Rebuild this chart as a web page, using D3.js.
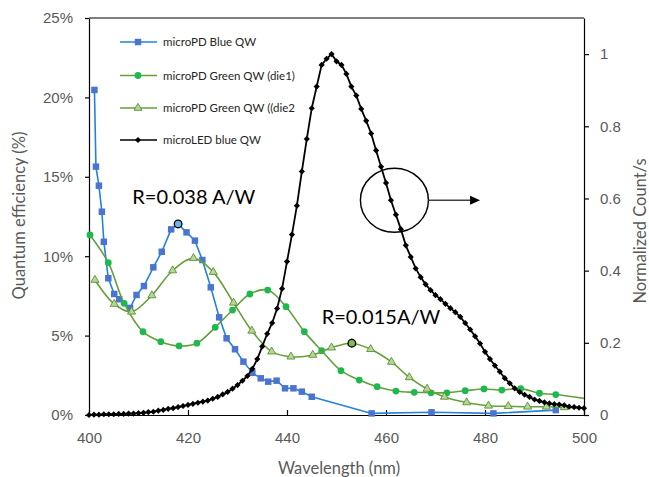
<!DOCTYPE html>
<html>
<head>
<meta charset="utf-8">
<script src="https://cdn.jsdelivr.net/npm/d3@7"></script>
<style>
  body { margin: 0; background: #fff; }
  svg { font-family: Lato, "Open Sans", sans-serif; }
  .axis text { fill: #595959; font-size: 15px; }
  .axis path, .axis line { stroke: #000; stroke-width: 1.2; }
  .title { fill: #595959; font-size: 16.5px; }
  .legend text { fill: #262626; font-size: 11.5px; }
</style>
</head>
<body>
<svg id="chart"></svg>
<script>
// microPD Blue QW : wavelength (nm), quantum efficiency (%)
const blueWl = [401.1, 401.4, 402.0, 402.6, 403.0, 403.9, 405.1, 406.1, 408.3, 409.6, 411.1, 413.0, 414.7, 416.6, 418.0,
  419.7, 421.4, 422.9, 424.6, 426.3, 427.8, 429.5, 431.2, 433.0, 434.7, 436.2, 437.9, 439.6, 441.3, 443.0, 445.0,
  457.1, 469.2, 481.7, 494.3];
const blueQe = [20.47, 15.64, 14.44, 12.80, 10.91, 8.61, 7.62, 7.29, 6.74, 7.56, 8.12, 9.30, 10.28, 11.69, 12.03,
  11.50, 10.98, 9.76, 8.04, 6.15, 4.83, 4.14, 3.36, 2.66, 2.31, 2.10, 2.16, 1.68, 1.68, 1.47, 1.15,
  0.10, 0.17, 0.10, 0.31];

// microPD Green QW (die1)
const green1Wl = [400.2, 403.9, 407.1, 410.9, 414.5, 418.2, 421.8, 425.5, 429.0, 432.5, 436.1, 439.8, 443.5, 447.0,
  450.9, 454.6, 458.2, 462.0, 465.7, 469.1, 472.3, 476.0, 479.8, 483.4, 487.2, 491.0, 494.3, 502];
const green1Qe = [11.34, 9.59, 7.03, 5.25, 4.62, 4.35, 4.52, 5.52, 6.61, 7.62, 7.87, 6.82, 5.25, 4.05,
  2.79, 2.20, 1.78, 1.51, 1.43, 1.40, 1.40, 1.53, 1.64, 1.57, 1.66, 1.37, 1.29, 0.95];

// microPD Green QW (die2)
const green2Wl = [401.2, 405.1, 408.6, 412.7, 416.9, 421.1, 425.1, 429.2, 432.9, 436.9, 440.8, 445.2, 449.0,
  453.1, 456.9, 461.1, 464.7, 468.3, 471.8, 476.3, 480.7, 484.7, 488.6, 492.4, 496.0, 502];
const green2Qe = [8.50, 6.99, 6.50, 7.53, 9.10, 9.87, 9.00, 7.07, 5.30, 3.99, 3.67, 3.78, 4.24,
  4.52, 4.14, 3.34, 2.37, 1.64, 1.14, 0.79, 0.58, 0.55, 0.52, 0.52, 0.48, 0.45];

// microLED blue QW : normalized count/s
const ledWl = [400, 401, 402, 403, 404, 405, 406, 407, 408, 409, 410, 411, 412, 413, 414, 415, 416, 417, 418, 419,
  420, 421, 422, 423, 424, 425, 426, 427, 428, 429, 430, 431, 432, 433, 434, 435, 436, 437, 438, 439,
  440, 441, 442, 443, 444, 445, 446, 447, 448, 449, 450, 451, 452, 453, 454, 455, 456, 457, 458, 459,
  460, 461, 462, 463, 464, 465, 466, 467, 468, 469, 470, 471, 472, 473, 474, 475, 476, 477, 478, 479,
  480, 481, 482, 483, 484, 485, 486, 487, 488, 489, 490, 491, 492, 493, 494, 495, 496, 497, 498, 499, 500];
const ledCounts = [0.000, 0.001, 0.001, 0.002, 0.002, 0.002, 0.003, 0.003, 0.004, 0.004,
  0.005, 0.006, 0.008, 0.009, 0.012, 0.014, 0.017, 0.019, 0.022, 0.025,
  0.028, 0.031, 0.034, 0.037, 0.040, 0.045, 0.050, 0.057, 0.064, 0.073,
  0.083, 0.095, 0.108, 0.128, 0.155, 0.190, 0.225, 0.255, 0.295, 0.350,
  0.425, 0.500, 0.580, 0.675, 0.765, 0.850, 0.910, 0.970, 0.987, 1.000,
  0.980, 0.970, 0.945, 0.910, 0.885, 0.848, 0.815, 0.780, 0.733, 0.688,
  0.643, 0.595, 0.555, 0.515, 0.470, 0.438, 0.406, 0.382, 0.362, 0.346,
  0.332, 0.321, 0.308, 0.296, 0.285, 0.272, 0.255, 0.237, 0.218, 0.198,
  0.175, 0.155, 0.137, 0.120, 0.102, 0.088, 0.074, 0.064, 0.056, 0.050,
  0.043, 0.039, 0.035, 0.032, 0.030, 0.029, 0.027, 0.023, 0.022, 0.020, 0.019];

const xTicks = [400, 420, 440, 460, 480, 500];
const leftTicks = [0, 5, 10, 15, 20, 25];
const rightTicks = [0, 0.2, 0.4, 0.6, 0.8, 1];
const seriesNames = ['microPD Blue QW', 'microPD Green QW (die1)', 'microPD Green QW ((die2', 'microLED blue QW'];

// responsivity call-outs: [wavelength, QE %, label]
const callouts = [[408.75, 13.29, 'R=0.038 A/W'], [447.0, 5.73, 'R=0.015A/W']];
const highlights = [[418.0, 12.03, '#6fb4ea'], [453.1, 4.52, '#86b85a']];
// circle around the LED curve, arrow points to right axis
const ledMark = {wl: 461.7, count: 0.595, arrowTo: 479.0};

class DualAxisChart {
  constructor(_config) {
    this.config = {
      parentElement: _config.parentElement,
      containerWidth: _config.containerWidth || 649,
      containerHeight: _config.containerHeight || 477,
      margin: {top: 18, right: 65, bottom: 62, left: 89}
    };
    this.initVis();
  }

  initVis() {
    let vis = this;
    vis.width = vis.config.containerWidth - vis.config.margin.left - vis.config.margin.right;
    vis.height = vis.config.containerHeight - vis.config.margin.top - vis.config.margin.bottom;

    vis.svg = d3.select(vis.config.parentElement)
      .attr('width', vis.config.containerWidth)
      .attr('height', vis.config.containerHeight);

    vis.chart = vis.svg.append('g')
      .attr('transform', `translate(${vis.config.margin.left}, ${vis.config.margin.top})`);

    vis.svg.append('defs').append('clipPath').attr('id', 'plot-clip')
      .append('rect').attr('x', -10).attr('y', -10).attr('width', vis.width + 10).attr('height', vis.height + 20);

    vis.xScale = d3.scaleLinear().domain([400, 500]).range([0, vis.width]);
    vis.yLeft = d3.scaleLinear().domain([0, 25]).range([vis.height, 0]);
    vis.yRight = d3.scaleLinear().domain([0, 1.1]).range([vis.height, 0]);

    vis.renderAxes();
    vis.renderVis();
  }

  renderAxes() {
    let vis = this;

    vis.chart.append('line').attr('x1', 0).attr('x2', vis.width)
      .attr('stroke', '#000').attr('stroke-width', 1.2);

    vis.chart.append('g').attr('class', 'axis x-axis')
      .attr('transform', `translate(0, ${vis.height})`)
      .call(d3.axisBottom(vis.xScale).tickValues(xTicks).tickSizeInner(-5).tickSizeOuter(0).tickPadding(17));

    vis.chart.append('g').attr('class', 'axis y-axis')
      .call(d3.axisLeft(vis.yLeft).tickValues(leftTicks).tickFormat(d => d + '%')
        .tickSize(4).tickSizeOuter(0).tickPadding(12));

    vis.chart.append('g').attr('class', 'axis y-axis-right')
      .attr('transform', `translate(${vis.width}, 0)`)
      .call(d3.axisRight(vis.yRight).tickValues(rightTicks).tickFormat(d3.format('~g'))
        .tickSize(5).tickSizeOuter(0).tickPadding(11));

    vis.svg.append('text').attr('class', 'title')
      .attr('transform', `translate(19, 215.5) rotate(-90)`)
      .attr('text-anchor', 'middle').attr('dy', '0.35em')
      .text('Quantum efficiency (%)');
    vis.svg.append('text').attr('class', 'title')
      .attr('x', 339).attr('y', 474).attr('text-anchor', 'middle')
      .text('Wavelength (nm)');
    vis.svg.append('text').attr('class', 'title')
      .attr('transform', `translate(640, 231) rotate(-90)`)
      .attr('text-anchor', 'middle').attr('dy', '0.35em')
      .text('Normalized Count/s');
  }

  renderVis() {
    let vis = this;
    const inRange = d => d.x <= 500;

    const series = [
      {data: d3.zip(blueWl, blueQe), y: vis.yLeft, line: '#2383d8', curve: d3.curveLinear,
        symbol: d3.symbolSquare, size: 42, fill: '#4a74d0', stroke: 'none', width: 1.6},
      {data: d3.zip(green1Wl, green1Qe), y: vis.yLeft, line: '#63a03a', curve: d3.curveCatmullRom,
        symbol: d3.symbolCircle, size: 36, fill: '#1db84e', stroke: 'none', width: 1.6},
      {data: d3.zip(green2Wl, green2Qe), y: vis.yLeft, line: '#63a03a', curve: d3.curveCatmullRom,
        symbol: d3.symbolTriangle, size: 28, fill: '#b5d89a', stroke: '#5b8f30', width: 1.6},
      {data: d3.zip(ledWl, ledCounts), y: vis.yRight, line: '#000', curve: d3.curveLinear,
        symbol: d3.symbolSquare, size: 19, fill: '#000', stroke: 'none', width: 1.8, rotate: 45}
    ];

    series.forEach((s, i) => {
      const pts = s.data.map(([x, y]) => ({x: x, y: y}));
      const line = d3.line().x(d => vis.xScale(d.x)).y(d => s.y(d.y)).curve(s.curve);

      vis.chart.append('path')
        .datum(pts)
        .attr('clip-path', 'url(#plot-clip)')
        .attr('fill', 'none')
        .attr('stroke', s.line)
        .attr('stroke-width', s.width)
        .attr('d', line);

      vis.chart.append('g')
        .selectAll('path')
        .data(pts.filter(inRange))
        .join('path')
          .attr('transform', d => `translate(${vis.xScale(d.x)}, ${s.y(d.y)}) rotate(${s.rotate || 0})`)
          .attr('d', d3.symbol(s.symbol, s.size))
          .attr('fill', s.fill)
          .attr('stroke', s.stroke)
          .attr('stroke-width', 0.9);
    });

    // highlighted points
    vis.chart.append('g').selectAll('circle')
      .data(highlights)
      .join('circle')
        .attr('cx', d => vis.xScale(d[0]))
        .attr('cy', d => vis.yLeft(d[1]))
        .attr('r', 3.8)
        .attr('fill', d => d[2])
        .attr('stroke', '#000')
        .attr('stroke-width', 1.3);

    vis.chart.append('g').selectAll('text')
      .data(callouts)
      .join('text')
        .attr('x', d => vis.xScale(d[0]))
        .attr('y', d => vis.yLeft(d[1]))
        .attr('font-size', 20)
        .attr('fill', '#000')
        .text(d => d[2]);

    // ring + arrow to the right axis
    const cx = vis.xScale(ledMark.wl), cy = vis.yRight(ledMark.count);
    const rx = 34, ry = 32;
    vis.chart.append('ellipse')
      .attr('cx', cx).attr('cy', cy).attr('rx', rx).attr('ry', ry)
      .attr('fill', 'none').attr('stroke', '#000').attr('stroke-width', 1.4);
    const tip = vis.xScale(ledMark.arrowTo);
    vis.chart.append('line')
      .attr('x1', cx + rx).attr('x2', tip - 9).attr('y1', cy).attr('y2', cy)
      .attr('stroke', '#404040').attr('stroke-width', 1.4);
    vis.chart.append('path')
      .attr('d', `M${tip},${cy}L${tip - 10},${cy - 4.5}L${tip - 10},${cy + 4.5}Z`)
      .attr('fill', '#000');

    vis.renderLegend(series);
  }

  renderLegend(series) {
    let vis = this;
    const legend = vis.svg.append('g').attr('class', 'legend');
    const rowY = [42, 75.5, 108, 140];

    series.forEach((s, i) => {
      const row = legend.append('g').attr('transform', `translate(120, ${rowY[i]})`);
      row.append('line').attr('x1', 0).attr('x2', 37)
        .attr('stroke', s.line).attr('stroke-width', 1.6);
      row.append('path')
        .attr('transform', `translate(18, 0) rotate(${s.rotate || 0})`)
        .attr('d', d3.symbol(s.symbol, s.size))
        .attr('fill', s.fill).attr('stroke', s.stroke).attr('stroke-width', 0.9);
      row.append('text').attr('x', 43).attr('dy', '0.35em').text(seriesNames[i]);
    });
  }
}

new DualAxisChart({parentElement: '#chart'});
</script>
</body>
</html>
